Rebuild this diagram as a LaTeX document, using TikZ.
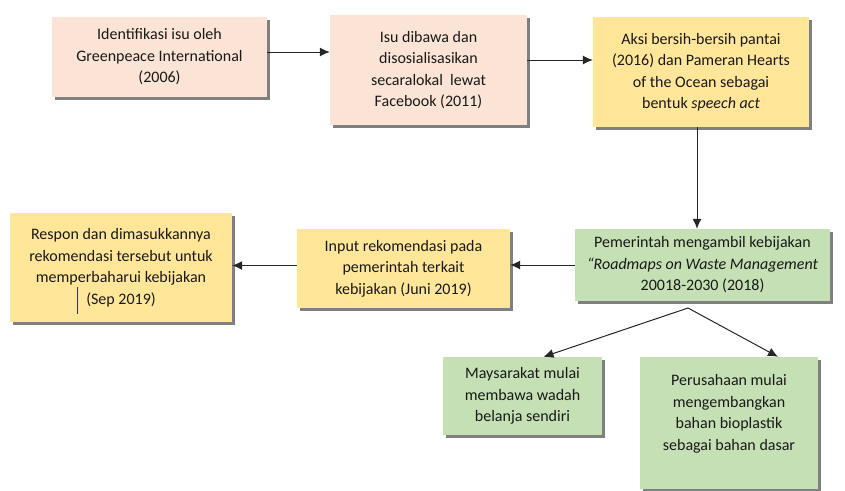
\documentclass[tikz,border=0pt]{standalone}
\usepackage{fontspec}
\setmainfont{Carlito}
\usepackage{xcolor}
\usetikzlibrary{arrows.meta,positioning,calc,shadows}
\definecolor{peach}{HTML}{FBE4D5}
\definecolor{kuning}{HTML}{FFE699}
\definecolor{hijau}{HTML}{C5E0B4}
\definecolor{kursor}{HTML}{1F3864}

\begin{document}
\begin{tikzpicture}[x=1pt, y=-1pt,
  every node/.style={font=\fontsize{16}{21.5}\selectfont, text=black!90},
  kotak/.style={rectangle, align=center, inner sep=0pt,
    drop shadow={shadow xshift=3pt, shadow yshift=-3pt, fill=black!50, opacity=1}},
  panah/.style={-{Latex[length=10pt,width=9pt]}, line width=1pt, black!85}]
\useasboundingbox (0,0) rectangle (845,490);
% baris atas
\node[kotak, fill=peach, minimum width=215pt, minimum height=80pt] (isu) at (159.5,57) {Identifikasi isu oleh\\Greenpeace International\\(2006)};
\node[kotak, fill=peach, minimum width=197pt, minimum height=110pt] (sosial) at (428.5,70) {Isu dibawa dan\\disosialisasikan\\secaralokal\ \ lewat\\Facebook (2011)};
\node[kotak, fill=kuning, minimum width=216pt, minimum height=110pt] (aksi) at (701,72) {Aksi bersih-bersih pantai\\(2016) dan Pameran Hearts\\of the Ocean sebagai\\bentuk \textit{speech act}};
% baris tengah
\node[kotak, fill=hijau, minimum width=255pt, minimum height=72pt] (kebijakan) at (702.5,265) {Pemerintah mengambil kebijakan\\\textit{“Roadmaps on Waste Management}\\20018-2030 (2018)};
\node[kotak, fill=kuning, minimum width=213pt, minimum height=79pt] (input) at (403.5,268.5) {Input rekomendasi pada\\pemerintah terkait\\kebijakan (Juni 2019)};
\node[kotak, fill=kuning, minimum width=222pt, minimum height=109pt] (respon) at (121,267.5) {Respon dan dimasukkannya\\rekomendasi tersebut untuk\\memperbaharui kebijakan\\\llap{\smash{\textcolor{kursor}{\rule[-10pt]{1pt}{27pt}}}\hspace{8pt}}(Sep 2019)};
% baris bawah
\node[kotak, fill=hijau, minimum width=159pt, minimum height=78pt] (masyarakat) at (522.5,396) {Maysarakat mulai\\membawa wadah\\belanja sendiri};
\node[kotak, fill=hijau, minimum width=178pt, minimum height=132pt] (perusahaan) at (729,423) {Perusahaan mulai\\mengembangkan\\bahan bioplastik\\sebagai bahan dasar\\\mbox{}};
\coordinate (cabang) at (688,308);
% panah
\draw[panah] ([yshift=5pt]isu.east) -- ([yshift=5pt]isu.east -| sosial.west);
\draw[panah] ([yshift=10pt]sosial.east) -- ([yshift=10pt]sosial.east -| aksi.west);
\draw[panah] ([xshift=-4pt]aksi.south) -- ([xshift=-4pt]aksi.south |- kebijakan.north);
\draw[panah] (kebijakan.west) -- (kebijakan.west -| input.east);
\draw[panah] ([yshift=3pt]input.west) -- ([yshift=3pt]input.west -| respon.east);
\draw[panah] (cabang) -- ([xshift=21pt]masyarakat.north);
\draw[panah] (cabang) -- ([xshift=49pt]perusahaan.north);
\end{tikzpicture}
\end{document}
